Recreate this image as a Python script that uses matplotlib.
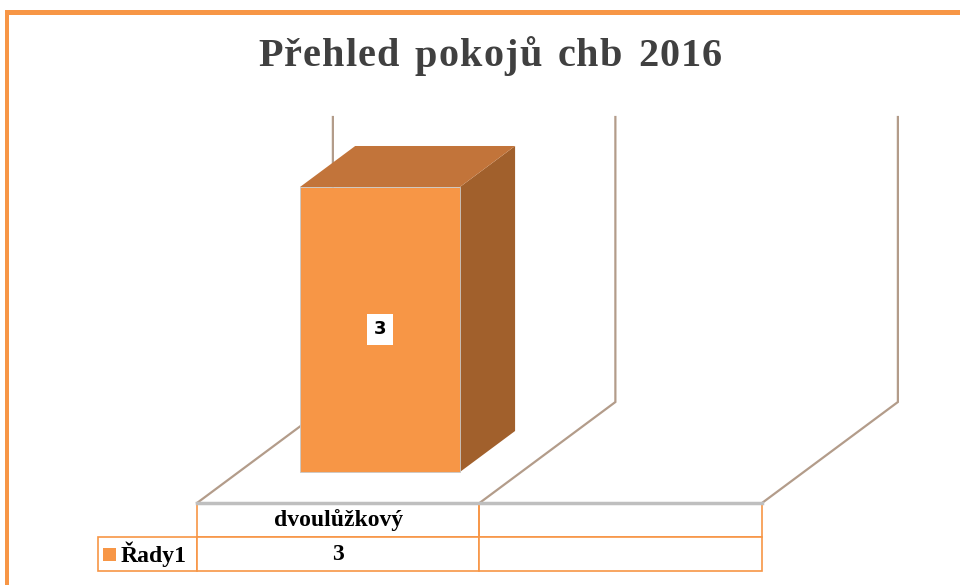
import numpy as np
import matplotlib
matplotlib.use("Agg")
import matplotlib.pyplot as plt
from matplotlib.patches import Polygon, Rectangle

# data
categories = ['dvoulůžkový', '']
series_name = 'Řady1'
values = [3]
title = 'Přehled pokojů chb 2016'
ymax = 3

# colours
c_front = '#F79646'
c_top = '#C2743A'
c_side = '#A1602C'
c_wall = '#B39C8A'
c_border = '#F79646'

# 3d look (category units / value units for a full depth step)
depth_dx = 0.481
depth_dy = 1.063
bar_d0, bar_d1 = 0.307, 0.713
bar_w = 0.566

fig = plt.figure(figsize=(9.6, 5.85), dpi=100)
fig.patch.set_facecolor('white')
ax = fig.add_axes([0, 0, 1, 1])
ax.set_xlim(-0.5 - 197 / 282.5, -0.5 + (960 - 197) / 282.5)
ax.set_ylim(-(585 - 503) / 95, 503 / 95)
ax.axis('off')

def pt(x, y, d):
    return (x + d * depth_dx, y + d * depth_dy)

# walls
bounds = np.arange(len(categories) + 1) - 0.5
for b in bounds:
    ax.plot(*zip(pt(b, 0, 0), pt(b, 0, 1), pt(b, ymax, 1)), color=c_wall, lw=1.6, zorder=1,
            solid_joinstyle='miter')
ax.plot([bounds[0], bounds[-1]], [0, 0], color='#BFBFBF', lw=2.5, zorder=4)

# bars
for i, v in enumerate(values):
    l, r = i - bar_w / 2, i + bar_w / 2
    front = [pt(l, 0, bar_d0), pt(r, 0, bar_d0), pt(r, v, bar_d0), pt(l, v, bar_d0)]
    top = [pt(l, v, bar_d0), pt(r, v, bar_d0), pt(r, v, bar_d1), pt(l, v, bar_d1)]
    side = [pt(r, 0, bar_d0), pt(r, 0, bar_d1), pt(r, v, bar_d1), pt(r, v, bar_d0)]
    ax.add_patch(Polygon(side, closed=True, fc=c_side, ec='none', zorder=2))
    ax.add_patch(Polygon(top, closed=True, fc=c_top, ec='none', zorder=2))
    ax.add_patch(Polygon(front, closed=True, fc=c_front, ec='#C8C8C8', lw=0.6, zorder=3))
    cx, cy = pt(i, v / 2, bar_d0)
    ax.text(cx, cy, str(v), ha='center', va='center', fontsize=13, fontweight='bold',
            family='DejaVu Sans', color='black', zorder=5,
            bbox=dict(fc='white', ec='none', boxstyle='square,pad=0.35'))

# data table (bbox covers the value columns, row label hangs to the left)
row_vals = [str(v) for v in values] + [''] * (len(categories) - len(values))
tab = ax.table(cellText=[row_vals], rowLabels=[series_name], colLabels=categories,
               colWidths=[283 / 960] * len(categories), rowLoc='right', cellLoc='center',
               bbox=[197 / 960, 1 - 571 / 585, (762 - 197) / 960, 68 / 585])
tab.auto_set_font_size(False)
tab._autoColumns = []  # keep fixed width for the row label column
for (r, c), cell in tab.get_celld().items():
    cell.set_edgecolor(c_border)
    cell.set_linewidth(1.2)
    cell.get_text().set_fontfamily('Liberation Serif')
    cell.get_text().set_fontweight('bold')
    cell.get_text().set_fontsize(17)
    if c == -1:
        cell.set_width(99 / 960)
    if r == 0:
        cell.visible_edges = 'BLR'
# legend key in the row label cell
ax.add_patch(Rectangle((103 / 960, 1 - 561 / 585), 13 / 960, 13 / 585,
                       transform=ax.transAxes, fc=c_front, ec='none', zorder=6))

# title, spread out letter by letter
renderer = fig.canvas.get_renderer()
tprops = dict(fontsize=29, fontweight='bold', family='Liberation Serif', color='#404040',
              va='center', ha='left')
widths = []
for ch in title:
    t = fig.text(0, 0, ch if ch != ' ' else 'n', **tprops)
    widths.append(t.get_window_extent(renderer).width * (0.6 if ch == ' ' else 1))
    t.remove()
target_w = 722 - 258
gap = (target_w - sum(widths)) / (len(title) - 1)
xpos = 258
for ch, w in zip(title, widths):
    fig.text(xpos / 960, 1 - 57 / 585, ch, **tprops)
    xpos += w + gap

# orange frame
fig.patches.append(Rectangle((5 / 960, 1 - 15 / 585), 955 / 960, 5 / 585,
                             transform=fig.transFigure, fc=c_border, ec='none'))
fig.patches.append(Rectangle((5 / 960, 0), 4 / 960, 1 - 10 / 585,
                             transform=fig.transFigure, fc=c_border, ec='none'))

fig.savefig('out.png', dpi=100)
